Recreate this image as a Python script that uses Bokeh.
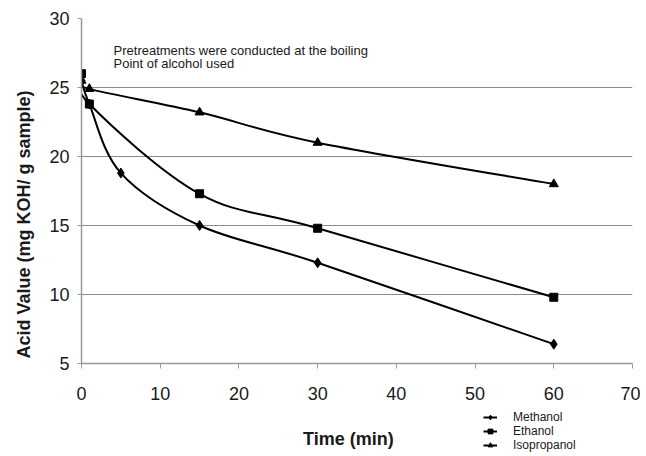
from bokeh.plotting import figure
from bokeh.layouts import column
from bokeh.models import Range1d, Legend, LegendItem, Label, FixedTicker, Title
from bokeh.embed import file_html
from bokeh.resources import INLINE

time_methanol = [0, 1, 5, 15, 30, 60]
methanol = [25.5, 23.8, 18.8, 15.0, 12.3, 6.4]
time_ethanol = [0, 1, 15, 30, 60]
ethanol = [26.0, 23.8, 17.3, 14.8, 9.8]
time_iso = [0, 1, 15, 30, 60]
isopropanol = [25.5, 24.9, 23.2, 21.0, 18.0]

x_ticks = [0, 10, 20, 30, 40, 50, 60, 70]
y_ticks = [5, 10, 15, 20, 25, 30]

FONT = "Liberation Sans"
TXT = "#1a1a1a"
W = 640

p = figure(width=W, height=407, output_backend="svg", toolbar_location=None,
           x_range=Range1d(0, 70), y_range=Range1d(5, 30),
           min_border_left=81, min_border_right=8, min_border_top=18, min_border_bottom=44)
p.outline_line_color = None
p.xgrid.grid_line_color = None
p.ygrid.grid_line_color = "#8a8a8a"
p.ygrid.grid_line_width = 1
p.xaxis.ticker = FixedTicker(ticks=x_ticks)
p.yaxis.ticker = FixedTicker(ticks=y_ticks)

for ax in (p.xaxis, p.yaxis):
    ax.axis_line_color = "#9a9a9a"
    ax.axis_line_width = 1.5
    ax.major_tick_line_color = "#9a9a9a"
    ax.minor_tick_line_color = None
    ax.major_tick_in = 0
    ax.major_label_text_font = FONT
    ax.major_label_text_font_size = "18px"
    ax.major_label_text_color = TXT
p.xaxis.major_tick_out = 5
p.yaxis.major_tick_out = 4
p.xaxis.major_label_standoff = 18
p.yaxis.major_label_standoff = 8

ytitle = Title(text="Acid Value (mg KOH/ g sample)", align="left", offset=5, standoff=22,
               vertical_align="top",
               text_font=FONT, text_font_style="bold", text_font_size="18px",
               text_color=TXT)
p.add_layout(ytitle, "left")


def smooth(xs, ys):
    n = len(xs)
    seg = {k: [] for k in ("x0", "y0", "x1", "y1", "cx0", "cy0", "cx1", "cy1")}
    for i in range(n - 1):
        xa, ya = xs[max(i - 1, 0)], ys[max(i - 1, 0)]
        xb, yb = xs[i], ys[i]
        xc, yc = xs[i + 1], ys[i + 1]
        xd, yd = xs[min(i + 2, n - 1)], ys[min(i + 2, n - 1)]
        seg["x0"].append(xb); seg["y0"].append(yb)
        seg["x1"].append(xc); seg["y1"].append(yc)
        seg["cx0"].append(xb + (xc - xa) / 6); seg["cy0"].append(yb + (yc - ya) / 6)
        seg["cx1"].append(xc - (xd - xb) / 6); seg["cy1"].append(yc - (yd - yb) / 6)
    return seg


series = [
    ("Methanol", time_methanol, methanol, "diamond", 10),
    ("Ethanol", time_ethanol, ethanol, "square", 8),
    ("Isopropanol", time_iso, isopropanol, "triangle", 9),
]
for name, xs, ys, marker, size in series:
    p.bezier(line_color="black", line_width=2, **smooth(xs, ys))
    p.scatter(xs, ys, marker=marker, size=size, fill_color="black", line_color="black")

p.add_layout(Label(x=4.07, y=27.71, text="Pretreatments were conducted at the boiling",
                   text_align="left", text_baseline="middle",
                   text_font=FONT, text_font_size="13px", text_color=TXT))
p.add_layout(Label(x=4.07, y=26.77, text="Point of alcohol used",
                   text_align="left", text_baseline="middle",
                   text_font=FONT, text_font_size="13px", text_color=TXT))

# lower strip (frame aligned with the main frame): x-axis title and legend
QH = 46
q = figure(width=W, height=QH, output_backend="svg", toolbar_location=None,
           x_range=Range1d(0, 70), y_range=Range1d(QH, 0),
           x_axis_location=None, y_axis_location=None,
           min_border_left=81, min_border_right=8, min_border_top=0, min_border_bottom=0)
q.grid.visible = False
q.outline_line_color = None
q.add_layout(Label(x=33.9, y=31, text="Time (min)", text_align="center",
                   text_baseline="middle", text_font=FONT, text_font_style="bold",
                   text_font_size="18px", text_color=TXT))

leg_items = []
for name, xs, ys, marker, size in series:
    ln = q.line([0, 0], [0, 0], line_color="black", line_width=2, visible=False)
    sc = q.scatter([0], [0], marker=marker, size=size * 0.75, fill_color="black",
                   line_color="black", visible=False)
    leg_items.append(LegendItem(label=name, renderers=[ln, sc]))

legend = Legend(items=leg_items, location=(402, 1), orientation="vertical",
                background_fill_alpha=0, border_line_color=None,
                label_text_font=FONT, label_text_font_size="12px",
                label_text_color=TXT, glyph_width=14, glyph_height=12,
                label_height=12, spacing=-3, padding=0, margin=0, label_standoff=16)
q.add_layout(legend, "center")

layout = column(p, q, spacing=0)
open("out.html", "w").write(file_html(layout, INLINE))
